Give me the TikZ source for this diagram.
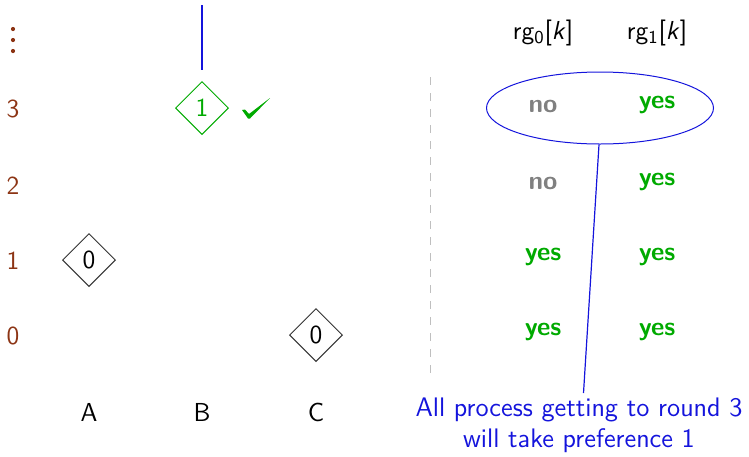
\documentclass[tikz,border=0pt]{standalone}
\usepackage{fontspec}
\setmainfont{Latin Modern Sans}
\usetikzlibrary{shapes.geometric}
\definecolor{rowbrown}{RGB}{140,52,20}
\definecolor{okgreen}{RGB}{0,170,0}
\definecolor{dimgray}{RGB}{128,128,128}
\definecolor{noteblue}{RGB}{20,20,220}
\begin{document}
\begin{tikzpicture}[x=0.5pt,y=-0.5pt,
  every node/.style={font=\fontsize{13}{15}\selectfont},
  rowlabel/.style={text=rowbrown},
  proc/.style={diamond,draw=black!80,line width=0.5pt,inner sep=0pt,minimum width=26.5pt,minimum height=26.5pt},
  decided/.style={proc,draw=okgreen,text=okgreen},
  yesval/.style={text=okgreen,font=\fontsize{13}{15}\selectfont\bfseries},
  noval/.style={text=dimgray,font=\fontsize{13}{15}\selectfont\bfseries},
  note/.style={text=noteblue,align=center,font=\fontsize{13.4}{15.4}\selectfont},
  link/.style={draw=noteblue,line width=0.6pt}]
\useasboundingbox (0,0) rectangle (749,456);
% round numbers, with dots for the rounds above
\foreach \yy in {29,40,51} \fill[rowbrown] (13,\yy) circle (2.1);
\node[rowlabel] (r3) at (13,109) {3};
\node[rowlabel] (r2) at (13,186) {2};
\node[rowlabel] (r1) at (13,261) {1};
\node[rowlabel] (r0) at (13,336) {0};
% processes
\node (pa) at (89,412) {A};
\node (pb) at (202,412) {B};
\node (pc) at (316,412) {C};
% estimates
\node[decided] (b3) at (202,108) {1};
\node[proc] (a1) at (89,260) {0};
\node[proc] (c0) at (316,335) {0};
\coordinate (btop) at (202,5);
\coordinate (bend) at (202,70);
\draw[link] (btop) -- (bend);
% check mark
\fill[okgreen] (242,110) -- (245,109.5) -- (249,114) -- (270,98) -- (250,118.5) -- (248,118.5) -- cycle;
% separator
\coordinate (sepT) at (430,77);
\coordinate (sepB) at (430,378);
\draw[black!25,line width=0.5pt,dash pattern=on 4pt off 4pt] (sepT) -- (sepB);
% table of round flags
\node (h0) at (543,33) {rg\textsubscript{0}[\textit{k}]};
\node (h1) at (657,33) {rg\textsubscript{1}[\textit{k}]};
\node[noval] (t30) at (543,106) {no};
\node[yesval] (t31) at (657,105) {yes};
\node[noval] (t20) at (543,183) {no};
\node[yesval] (t21) at (657,182) {yes};
\node[yesval] (t10) at (543,257) {yes};
\node[yesval] (t11) at (657,257) {yes};
\node[yesval] (t00) at (543,332) {yes};
\node[yesval] (t01) at (657,332) {yes};
\node[ellipse,draw=noteblue,line width=0.5pt,minimum width=113.5pt,minimum height=36pt] (el) at (600,108) {};
\node[note] (txt) at (579,425) {All process getting to round 3\\will take preference 1};
\coordinate (elfoot) at (599,144.5);
\coordinate (txtop) at (583.5,393);
\draw[link] (elfoot) -- (txtop);
\end{tikzpicture}
\end{document}
